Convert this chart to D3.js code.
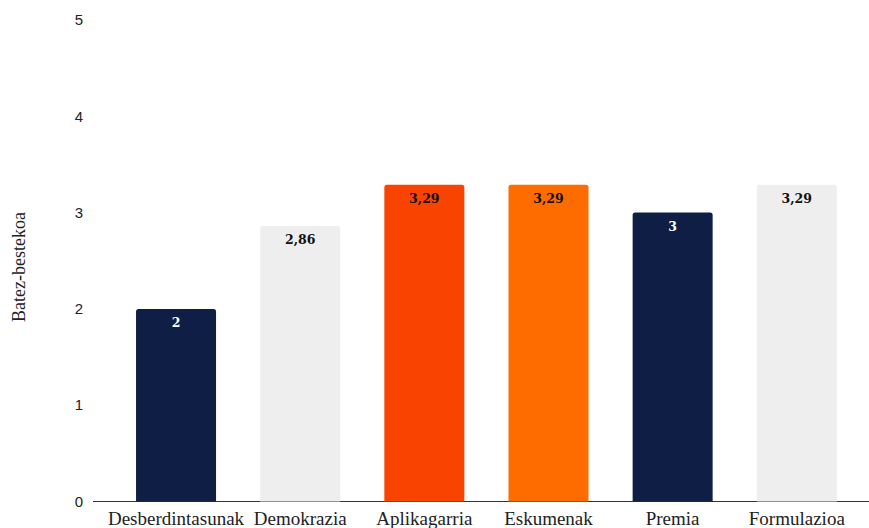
<!DOCTYPE html>
<html><head><meta charset="utf-8">
<script src="https://cdn.jsdelivr.net/npm/d3@7"></script>
<style>body{margin:0;background:#fff}svg{display:block}</style>
</head><body>
<svg id="c" width="869" height="528"></svg>
<script>
const categories = ["Desberdintasunak","Demokrazia","Aplikagarria","Eskumenak","Premia","Formulazioa"];
const values = [2, 2.86, 3.29, 3.29, 3, 3.29];
const labels = ["2","2,86","3,29","3,29","3","3,29"];
const colors = ["#0f1e44","#eeeeee","#f84400","#fe6c00","#0f1e44","#eeeeee"];
const labelColors = ["#ffffff","#111111","#111111","#111111","#ffffff","#111111"];
const yTicks = [0,1,2,3,4,5];
const yTitle = "Batez-bestekoa";

const svg = d3.select("#c");
const x = d3.scaleBand().domain(categories).range([93, 869]).paddingInner(0.3556).paddingOuter(0.303).align(0.572);
const y = d3.scaleLinear().domain([0,5]).range([501.5, 20]);

// y tick labels
svg.append("g").selectAll("text").data(yTicks).join("text")
  .attr("x", 83).attr("y", d => y(d)).attr("dy", "0.35em")
  .attr("text-anchor", "end")
  .style("font-family", "Liberation Sans, Arial, sans-serif").style("font-size", "15px").style("fill", "#222")
  .text(d => d);

// axis line
svg.append("line").attr("x1", 93).attr("x2", 869).attr("y1", y(0)).attr("y2", y(0))
  .attr("stroke", "#333").attr("stroke-width", 1.2);

// bars
svg.append("g").selectAll("path").data(values).join("path")
  .attr("fill", (d,i) => colors[i])
  .attr("d", (d,i) => {
    const x0 = x(categories[i]), w = x.bandwidth(), y0 = y(0), y1 = y(d), r = 2.5;
    return `M${x0},${y0}V${y1+r}Q${x0},${y1} ${x0+r},${y1}H${x0+w-r}Q${x0+w},${y1} ${x0+w},${y1+r}V${y0}Z`;
  });

// value labels
svg.append("g").selectAll("text").data(values).join("text")
  .attr("x", (d,i) => x(categories[i]) + x.bandwidth()/2)
  .attr("y", d => y(d) + 18)
  .attr("text-anchor", "middle")
  .style("font-family", "DejaVu Serif, Georgia, serif").style("font-weight", "bold").style("font-size", "12.5px")
  .style("fill", (d,i) => labelColors[i])
  .text((d,i) => labels[i]);

// category labels
svg.append("g").selectAll("text").data(categories).join("text")
  .attr("x", d => x(d) + x.bandwidth()/2)
  .attr("y", 525)
  .attr("text-anchor", "middle")
  .style("font-family", "Liberation Serif, Times New Roman, serif").style("font-size", "19px").style("fill", "#222")
  .text(d => d);

// y title
svg.append("text")
  .attr("transform", "translate(25,267) rotate(-90)")
  .attr("text-anchor", "middle")
  .style("font-family", "Liberation Serif, Times New Roman, serif").style("font-size", "18px").style("fill", "#222")
  .text(yTitle);
</script>
</body></html>
